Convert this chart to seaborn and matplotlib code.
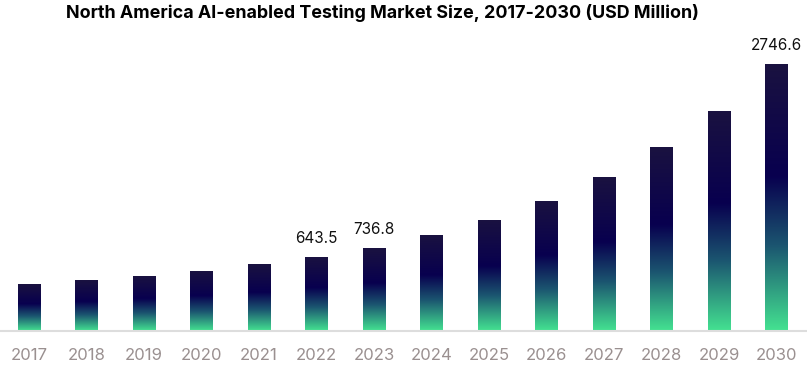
import numpy as np
import pandas as pd
import matplotlib
matplotlib.use("Agg")
import matplotlib.pyplot as plt
from matplotlib.colors import LinearSegmentedColormap
import seaborn as sns

years = [str(y) for y in range(2017, 2031)]
values = [345, 386, 436, 490, 560, 643.5, 736.8, 881, 1048, 1256, 1511, 1839, 2239, 2746.6]
labeled_years = ["2022", "2023", "2030"]

BASE = -168.6          # visual baseline of the bars (axis bottom)
PX_SCALE = 10.93       # value units per pixel

sns.set_theme(style="white")
plt.rcParams['font.family'] = ['Inter', 'DejaVu Sans']

fig = plt.figure(figsize=(8.07, 3.65), dpi=100)
ax = fig.add_axes([0, 34/365, 1, 311/365])

df = pd.DataFrame({"year": years, "value": values})
sns.barplot(data=df, x="year", y="value", ax=ax, width=0.4, color="white",
            linewidth=0, saturation=1)

cmap = LinearSegmentedColormap.from_list(
    "g", [(0.0, "#1a1240"), (0.42, "#08004f"), (0.68, "#1b5570"), (1.0, "#44e291")])
grad = np.linspace(0, 1, 256).reshape(-1, 1)

for p, v in zip(ax.patches, values):
    x0 = p.get_x(); w = p.get_width()
    p.set_y(BASE)
    p.set_height(v - BASE)
    p.set_facecolor("none")
    im = ax.imshow(grad, cmap=cmap, aspect="auto", origin="upper",
                   extent=[x0, x0 + w, BASE, v], zorder=2, interpolation="bilinear")
    im.set_clip_path(p)

for y, v in zip(years, values):
    if y in labeled_years:
        i = years.index(y)
        ax.annotate(f"{v:.1f}", (i, v), xytext=(0, 8), textcoords="offset points",
                    ha="center", va="bottom", fontsize=11, color="#111111")

ax.set_xlim(-0.505, 13.53)
ax.set_ylim(BASE, BASE + 311 * PX_SCALE)
ax.set_xlabel("")
ax.set_ylabel("")
ax.set_yticks([])
ax.tick_params(axis="x", length=0, pad=12, labelsize=12, labelcolor="#9a9090")
for s in ["top", "right", "left"]:
    ax.spines[s].set_visible(False)
ax.spines["bottom"].set_color("#dddddd")
ax.spines["bottom"].set_linewidth(1.5)

fig.text(382/807, 1 - 13/365, "North America AI-enabled Testing Market Size, 2017-2030 (USD Million)",
         ha="center", va="center", fontsize=12.9, fontweight="bold", color="#000000")

fig.savefig("out.png", dpi=100)
